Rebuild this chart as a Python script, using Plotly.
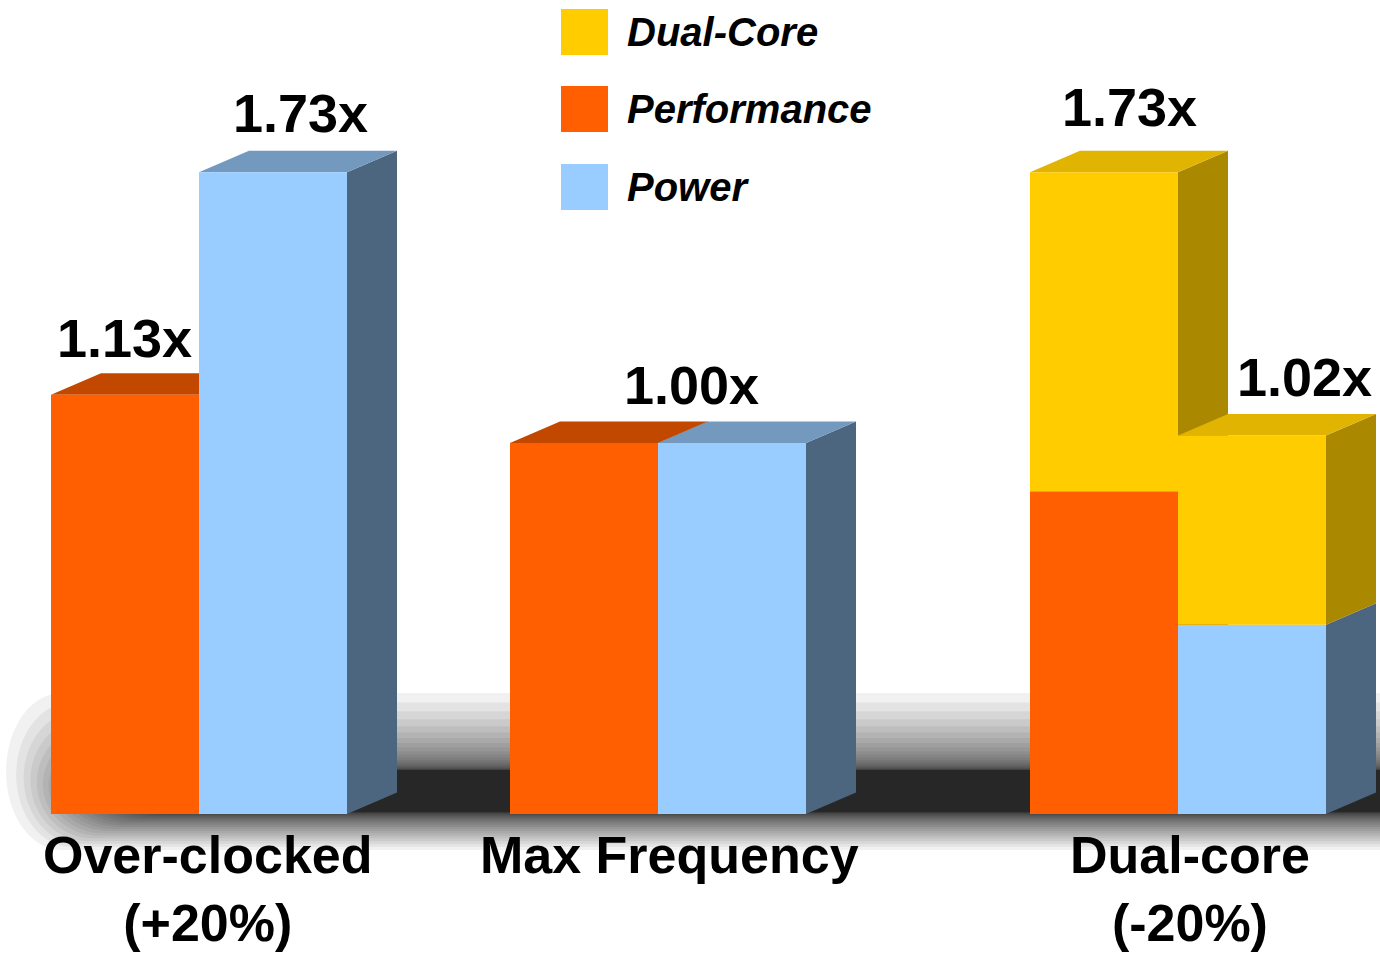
import plotly.graph_objects as go

# ---- data -------------------------------------------------------------
categories = ["Over-clocked<br>(+20%)", "Max Frequency", "Dual-core<br>(-20%)"]
performance = [1.13, 1.00, 0.87]          # single-core performance
power = [1.73, 1.00, 0.51]                # single-core power
dual_core_perf = [0.0, 0.0, 0.86]         # added by the second core
dual_core_power = [0.0, 0.0, 0.51]
series_names = ["Dual-Core", "Performance", "Power"]

# ---- layout constants (pixels of a 1380x955 canvas) --------------------
W, H = 1380, 955
BASE_PX, UNIT_PX = 814, 371               # baseline row and pixels per 1.0x
GROUP_SEAM = [199, 658, 1178]             # x where the two columns of a group meet
BAR_W = 148
DX, DY_PX = 50, 21.5                      # oblique depth of the 3-D boxes
DY = DY_PX / UNIT_PX

COLORS = {  # front, top, side
    "Performance": ("#FF5F00", "#C24800", "#A33D00"),
    "Power": ("#99CCFF", "#7399BF", "#4C6680"),
    "Dual-Core": ("#FFCC00", "#E0B400", "#AA8800"),
}
FONT = "Liberation Sans, Arial, Helvetica, sans-serif"


def py(p):
    """Canvas pixel row -> y data value."""
    return (BASE_PX - p) / UNIT_PX


perf_x = [s - BAR_W / 2 for s in GROUP_SEAM]
power_x = [s + BAR_W / 2 for s in GROUP_SEAM]

fig = go.Figure()
shapes = []

# ---- soft floor shadow: many stacked translucent capsules ---------------
N = 30
for i in range(N):
    t = i / (N - 1)
    top = 770 - 77 * (1 - t) ** 3.8
    bot = 812 + 38 * (1 - t) ** 2.5
    left = 6 + 150 * t ** 0.8
    rx = 55
    cy = (top + bot) / 2
    ry = (bot - top) / 2
    k = 0.5523
    path = (
        f"M 1420,{py(top)} L {left + rx},{py(top)} "
        f"C {left + rx - k * rx},{py(top)} {left},{py(cy - k * ry)} {left},{py(cy)} "
        f"C {left},{py(cy + k * ry)} {left + rx - k * rx},{py(bot)} {left + rx},{py(bot)} "
        f"L 1420,{py(bot)} Z"
    )
    shapes.append(dict(type="path", path=path, xref="x", yref="y", layer="below",
                       fillcolor="rgba(0,0,0,0.056)", line=dict(width=0)))

# ---- columns: list of (left x, [(y0, y1, series), ...]) ----------------
columns = []
for g in range(len(categories)):
    segs = [(0, performance[g], "Performance")]
    if dual_core_perf[g] > 0:
        segs.append((performance[g], performance[g] + dual_core_perf[g], "Dual-Core"))
    columns.append((GROUP_SEAM[g] - BAR_W, segs))
    segs = [(0, power[g], "Power")]
    if dual_core_power[g] > 0:
        segs.append((power[g], power[g] + dual_core_power[g], "Dual-Core"))
    columns.append((GROUP_SEAM[g], segs))

# side and top faces, drawn left to right so nearer faces overlap
for x0, segs in columns:
    x1 = x0 + BAR_W
    for y0, y1, name in segs:
        shapes.append(dict(
            type="path", xref="x", yref="y", layer="below",
            path=f"M {x1},{y0} L {x1 + DX},{y0 + DY} L {x1 + DX},{y1 + DY} L {x1},{y1} Z",
            fillcolor=COLORS[name][2], line=dict(width=0)))
    y1, name = segs[-1][1], segs[-1][2]
    shapes.append(dict(
        type="path", xref="x", yref="y", layer="below",
        path=f"M {x0},{y1} L {x1},{y1} L {x1 + DX},{y1 + DY} L {x0 + DX},{y1 + DY} Z",
        fillcolor=COLORS[name][1], line=dict(width=0)))

# ---- front faces ------------------------------------------------------
fig.add_trace(go.Bar(name="Performance", x=perf_x, y=performance, base=[0, 0, 0],
                     width=BAR_W, marker=dict(color=COLORS["Performance"][0], line=dict(width=0))))
fig.add_trace(go.Bar(name="Power", x=power_x, y=power, base=[0, 0, 0],
                     width=BAR_W, marker=dict(color=COLORS["Power"][0], line=dict(width=0))))
fig.add_trace(go.Bar(name="Dual-Core",
                     x=perf_x + power_x,
                     y=dual_core_perf + dual_core_power,
                     base=performance + power,
                     width=BAR_W, marker=dict(color=COLORS["Dual-Core"][0], line=dict(width=0))))

# ---- value labels -----------------------------------------------------
annotations = []
value_labels = [  # (column x, value, x shift px, lift px)
    (perf_x[0], performance[0], -1, 35),
    (power_x[0], power[0], 27, 38),
    (GROUP_SEAM[1], performance[1], 33, 37),
    (perf_x[2], performance[2] + dual_core_perf[2], 25, 44),
    (power_x[2], power[2] + dual_core_power[2], 52, 37),
]
for x, v, shift, lift in value_labels:
    annotations.append(dict(
        x=x + shift, y=v + DY + lift / UNIT_PX, xref="x", yref="y",
        text=f"{v:.2f}x", showarrow=False, xanchor="center", yanchor="middle",
        font=dict(family=FONT, size=54, color="black", weight="bold")))

# ---- category labels --------------------------------------------------
label_shift = [9, 11, 12]
for g, cat in enumerate(categories):
    annotations.append(dict(
        x=GROUP_SEAM[g] + label_shift[g], y=py(824), xref="x", yref="y",
        text=cat, showarrow=False, xanchor="center", yanchor="top",
        font=dict(family=FONT, size=52, color="black", weight="bold")))

# ---- legend -----------------------------------------------------------
legend_rows = [32, 109, 187]
for name, cy in zip(series_names, legend_rows):
    shapes.append(dict(type="rect", xref="x", yref="y", layer="above",
                       x0=561, x1=608, y0=py(cy - 23), y1=py(cy + 23),
                       fillcolor=COLORS[name][0], line=dict(width=0)))
    annotations.append(dict(
        x=625, y=py(cy), xref="x", yref="y", text=name, showarrow=False,
        xanchor="left", yanchor="middle",
        font=dict(family=FONT, size=40, color="black", weight="bold", style="italic")))

fig.update_layout(
    width=W, height=H, margin=dict(l=0, r=0, t=0, b=0),
    paper_bgcolor="white", plot_bgcolor="white",
    barmode="overlay", showlegend=False,
    xaxis=dict(range=[0, W], visible=False, fixedrange=True),
    yaxis=dict(range=[py(H), py(0)], visible=False, fixedrange=True),
    shapes=shapes, annotations=annotations,
)

fig.write_html("out.html")
